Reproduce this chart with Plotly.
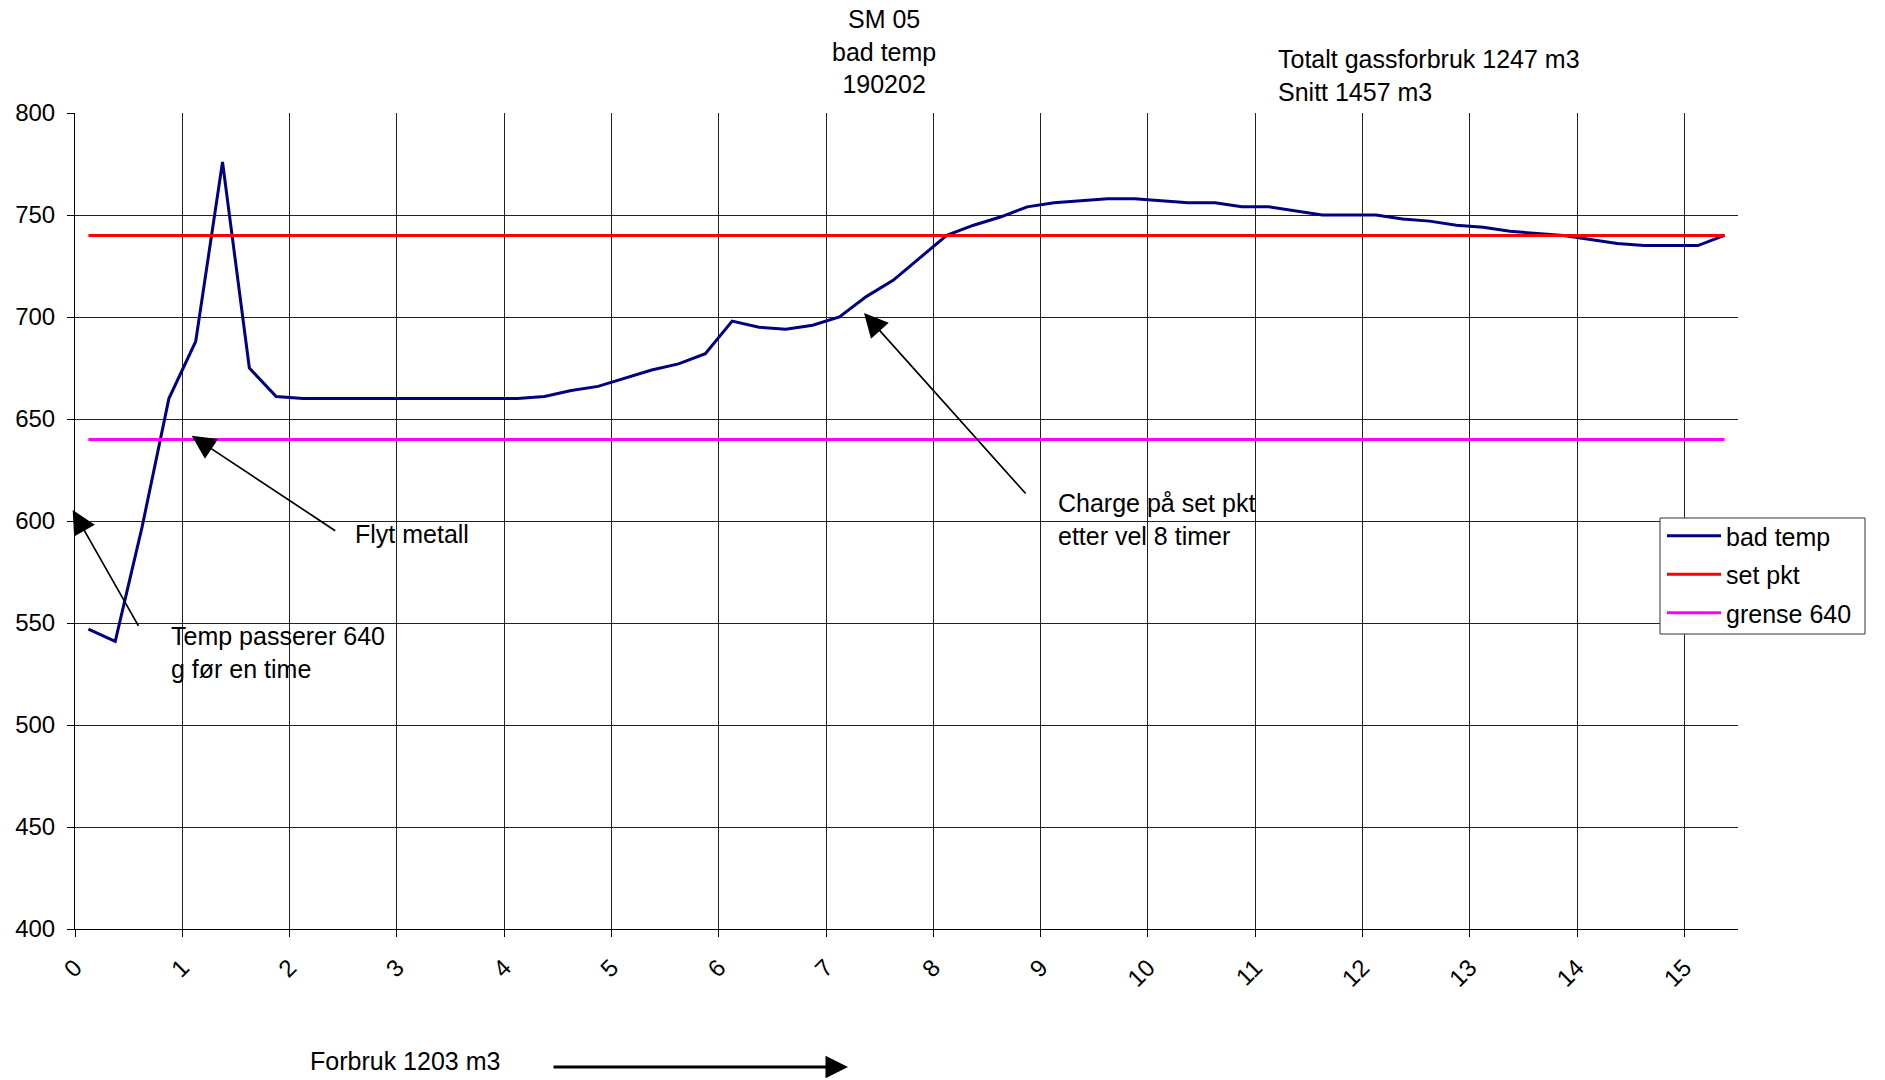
import plotly.graph_objects as go

# ---- data ----
hours_step = 0.25
bad_temp = [547, 541, 597, 660, 688, 776, 675, 661,
            660, 660, 660, 660, 660, 660, 660, 660, 660,
            661, 664, 666, 670, 674, 677, 682,
            698, 695, 694, 696, 700, 710, 718, 729,
            740, 745, 749, 754, 756, 757, 758, 758,
            757, 756, 756, 754, 754, 752, 750, 750,
            750, 748, 747, 745, 744, 742, 741, 740,
            738, 736, 735, 735, 735, 740]
set_pkt_value = 740
grense_value = 640
x_tick_values = list(range(0, 16))
x_tick_labels = [str(v) for v in x_tick_values]
y_tick_values = list(range(400, 801, 50))

n = len(bad_temp)
x_vals = [(i + 0.5) * hours_step for i in range(n)]
set_pkt = [set_pkt_value] * n
grense = [grense_value] * n

# ---- layout geometry (pixels) ----
W, H = 1885, 1080
L, R, T, B = 75, 1738, 113, 929
PW, PH = R - L, B - T


def px(xp):
    return (xp - L) / PW


def py(yp):
    return (B - yp) / PH


FONT = "Liberation Sans, Arial, sans-serif"
FS = 25

fig = go.Figure()
fig.add_trace(go.Scatter(x=x_vals, y=bad_temp, mode="lines", name="bad temp",
                         line=dict(color="#000080", width=3), legendgroup="a"))
fig.add_trace(go.Scatter(x=x_vals, y=set_pkt, mode="lines", name="set pkt",
                         line=dict(color="#FF0000", width=3), legendgroup="b"))
fig.add_trace(go.Scatter(x=x_vals, y=grense, mode="lines", name="grense 640",
                         line=dict(color="#FF00FF", width=3), legendgroup="c"))

annotations = []


def text_ann(text, xp, yp, xanchor="left", align="left", size=FS):
    annotations.append(dict(text=text, x=px(xp), y=py(yp), xref="paper", yref="paper",
                            xanchor=xanchor, yanchor="middle", align=align,
                            showarrow=False, font=dict(family=FONT, size=size, color="black")))


def arrow_ann(tip_x, tip_y, tail_x, tail_y, width=1.7, size=2.8):
    annotations.append(dict(text="", x=px(tip_x), y=py(tip_y), xref="paper", yref="paper",
                            ax=tail_x - tip_x, ay=tail_y - tip_y, axref="pixel", ayref="pixel",
                            showarrow=True, arrowhead=2, arrowsize=size, arrowwidth=width,
                            arrowcolor="black", standoff=0, startstandoff=0))


text_ann("SM 05<br>bad temp<br>190202", 883.6, 51, xanchor="center", align="center")
text_ann("Totalt gassforbruk 1247 m3<br>Snitt 1457 m3", 1276, 76)
text_ann("Temp passerer 640<br>g før en time", 169, 652.5)
text_ann("Flyt metall", 353, 533.5)
text_ann("Charge på set pkt<br>etter vel 8 timer", 1056, 519)
text_ann("Forbruk 1203 m3", 307.6, 1061)

arrow_ann(72.7, 510, 139.3, 627.3)
arrow_ann(191.7, 435.7, 336.7, 531.7)
arrow_ann(864, 313, 1027, 495)
arrow_ann(848, 1067, 552, 1067, width=3, size=1.5)

# legend frame (white box with thin border)
legend_box = dict(type="rect", xref="paper", yref="paper",
                  x0=px(1660), x1=px(1865), y0=py(634), y1=py(518),
                  fillcolor="white", line=dict(color="#333333", width=1), layer="above")

fig.update_layout(
    width=W, height=H,
    margin=dict(l=L, r=W - R, t=T, b=H - B, pad=0),
    paper_bgcolor="white", plot_bgcolor="white",
    font=dict(family=FONT, size=FS, color="black"),
    showlegend=True,
    legend=dict(x=px(1662), y=py(513), xanchor="left", yanchor="top",
                bgcolor="rgba(0,0,0,0)", borderwidth=0,
                font=dict(family=FONT, size=FS, color="black"),
                tracegroupgap=3, itemwidth=54),
    annotations=annotations,
    shapes=[legend_box],
)
fig.update_xaxes(range=[0, n * hours_step], tickmode="array", tickvals=x_tick_values,
                 ticktext=x_tick_labels, tickangle=-45, showgrid=True, gridcolor="#222222",
                 gridwidth=1, showline=True, linecolor="black", linewidth=1,
                 ticks="outside", ticklen=7, tickcolor="black", zeroline=False,
                 tickfont=dict(family=FONT, size=24), ticklabelstandoff=7)
fig.update_yaxes(range=[400, 800], tickmode="array", tickvals=y_tick_values,
                 showgrid=True, gridcolor="#222222", gridwidth=1, showline=True,
                 linecolor="black", linewidth=1, ticks="outside", ticklen=7,
                 tickcolor="black", zeroline=False, tickfont=dict(family=FONT, size=24),
                 ticklabelstandoff=7)

fig.write_html("out.html")
